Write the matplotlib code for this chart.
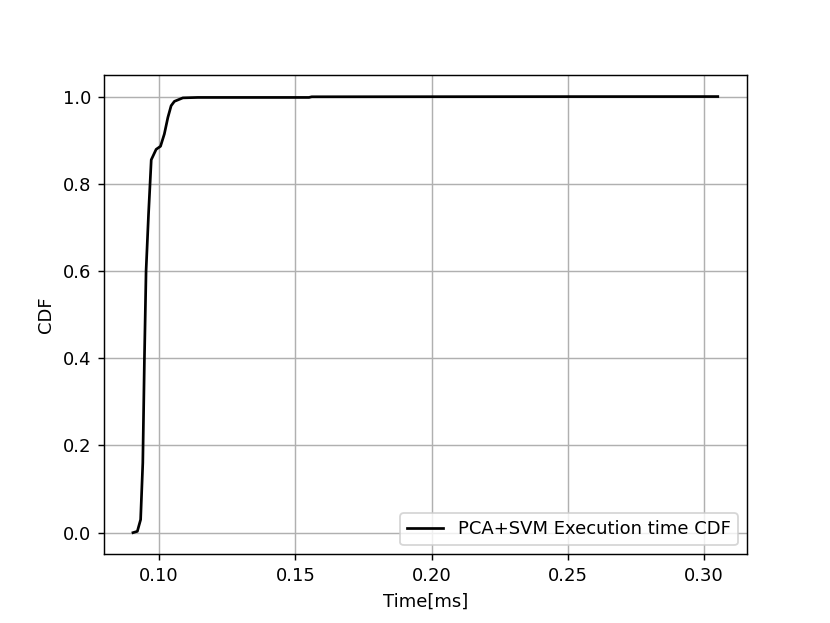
import matplotlib
matplotlib.use("Agg")
import matplotlib.pyplot as plt

# execution time (ms) and CDF values
time_ms = [0.0904, 0.0920, 0.0932, 0.0940, 0.0946, 0.0952, 0.0961, 0.0971,
           0.0989, 0.1005, 0.1019, 0.1032, 0.1044, 0.1056, 0.1087, 0.1142,
           0.1550, 0.1560, 0.2000, 0.2500, 0.3050]
cdf = [0.0, 0.003, 0.03, 0.16, 0.40, 0.60, 0.73, 0.855,
       0.879, 0.886, 0.914, 0.952, 0.979, 0.989, 0.997, 0.998,
       0.998, 0.9995, 0.9997, 0.9999, 1.0]

fig = plt.figure(figsize=(830 / 130, 623 / 130), dpi=130)
plt.plot(time_ms, cdf, color="black", linewidth=1.5, label="PCA+SVM Execution time CDF")
plt.xlabel("Time[ms]")
plt.ylabel("CDF")
plt.grid(True)
plt.legend(loc="lower right")
plt.savefig("out.png")
